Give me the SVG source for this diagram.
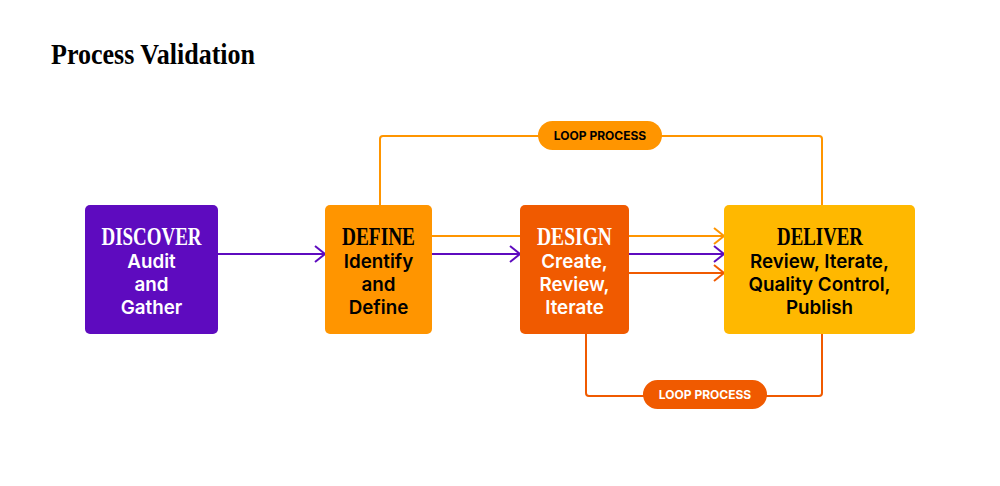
<svg xmlns="http://www.w3.org/2000/svg" width="1000" height="486" viewBox="0 0 1000 486">
<defs>
<style>
.title{font-family:"Liberation Serif","DejaVu Serif",serif;font-weight:bold;font-size:30px;fill:#000}
.head{font-family:"Liberation Serif","DejaVu Serif",serif;font-weight:bold;font-size:25px;text-anchor:middle}
.body{font-family:Inter,"Liberation Sans",sans-serif;font-weight:600;font-size:18.8px;text-anchor:middle}
.pill{font-family:Inter,"Liberation Sans",sans-serif;font-weight:700;font-size:12px;text-anchor:middle}
.w{fill:#fff}.k{fill:#000}
.ln{fill:none;stroke-width:2}
</style>
<marker id="aP" viewBox="0 0 12 18" refX="11" refY="9" markerWidth="12" markerHeight="18" markerUnits="userSpaceOnUse" orient="auto"><path d="M1,1 L11,9 L1,17" fill="none" stroke="#5E0BBF" stroke-width="2"/></marker>
<marker id="aO" viewBox="0 0 12 18" refX="11" refY="9" markerWidth="12" markerHeight="18" markerUnits="userSpaceOnUse" orient="auto"><path d="M1,1 L11,9 L1,17" fill="none" stroke="#FF9500" stroke-width="2"/></marker>
<marker id="aR" viewBox="0 0 12 18" refX="11" refY="9" markerWidth="12" markerHeight="18" markerUnits="userSpaceOnUse" orient="auto"><path d="M1,1 L11,9 L1,17" fill="none" stroke="#F05A00" stroke-width="2"/></marker>
</defs>
<rect width="1000" height="486" fill="#fff"/>
<text class="title" x="51" y="64" textLength="204" lengthAdjust="spacingAndGlyphs">Process Validation</text>

<g id="connectors">
<path class="ln" stroke="#FF9500" d="M380,205 V139 Q380,136 383,136 H819 Q822,136 822,139 V205"/>
<path class="ln" stroke="#F05A00" d="M586,334 V393 Q586,396 589,396 H819 Q822,396 822,393 V334"/>
<path class="ln" stroke="#5E0BBF" d="M218,254 H325" marker-end="url(#aP)"/>
<path class="ln" stroke="#5E0BBF" d="M432,254 H520" marker-end="url(#aP)"/>
<path class="ln" stroke="#FF9500" d="M432,236 H520"/>
<path class="ln" stroke="#FF9500" d="M629,236 H724" marker-end="url(#aO)"/>
<path class="ln" stroke="#5E0BBF" d="M629,254 H724" marker-end="url(#aP)"/>
<path class="ln" stroke="#F05A00" d="M629,273 H724" marker-end="url(#aR)"/>
</g>

<g id="loop-top">
<rect x="538" y="121" width="124" height="29" rx="14.5" fill="#FF9500"/>
<text class="pill k" x="600" y="140">LOOP PROCESS</text>
</g>
<g id="loop-bottom">
<rect x="643" y="380" width="124" height="29" rx="14.5" fill="#F05A00"/>
<text class="pill w" x="705" y="399">LOOP PROCESS</text>
</g>

<g id="discover">
<rect x="85" y="205" width="133" height="129" rx="5" fill="#5E0BBF"/>
<text class="head w" x="151.5" y="245" textLength="100" lengthAdjust="spacingAndGlyphs">DISCOVER</text>
<text class="body w" x="151.5" y="268">Audit</text>
<text class="body w" x="151.5" y="291">and</text>
<text class="body w" x="151.5" y="314">Gather</text>
</g>
<g id="define">
<rect x="325" y="205" width="107" height="129" rx="5" fill="#FF9500"/>
<text class="head k" x="378.5" y="245" textLength="73" lengthAdjust="spacingAndGlyphs">DEFINE</text>
<text class="body k" x="378.5" y="268">Identify</text>
<text class="body k" x="378.5" y="291">and</text>
<text class="body k" x="378.5" y="314">Define</text>
</g>
<g id="design">
<rect x="520" y="205" width="109" height="129" rx="5" fill="#F05A00"/>
<text class="head w" x="574.5" y="245" textLength="75" lengthAdjust="spacingAndGlyphs">DESIGN</text>
<text class="body w" x="574.5" y="268">Create,</text>
<text class="body w" x="574.5" y="291">Review,</text>
<text class="body w" x="574.5" y="314">Iterate</text>
</g>
<g id="deliver">
<rect x="724" y="205" width="191" height="129" rx="5" fill="#FFB800"/>
<text class="head k" x="820" y="245" textLength="86" lengthAdjust="spacingAndGlyphs">DELIVER</text>
<text class="body k" x="819.5" y="268">Review, Iterate,</text>
<text class="body k" x="819.5" y="291">Quality Control,</text>
<text class="body k" x="819.5" y="314">Publish</text>
</g>
</svg>
